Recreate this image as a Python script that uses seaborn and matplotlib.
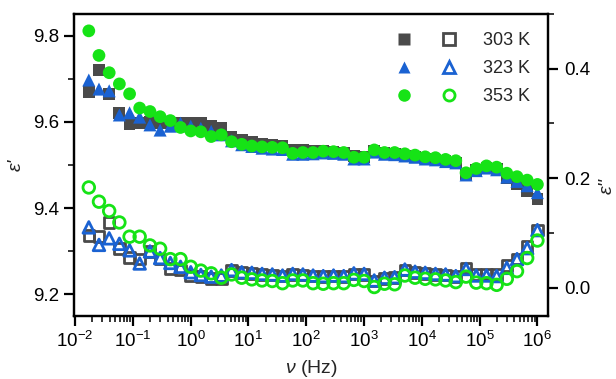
import numpy as np
import pandas as pd
import matplotlib
matplotlib.use("Agg")
import matplotlib.pyplot as plt
import seaborn as sns
from matplotlib.lines import Line2D
from matplotlib.ticker import MultipleLocator, LogLocator, NullFormatter, FixedLocator

# ---------------- data ----------------
freq = [0.0174, 0.0261, 0.0392, 0.0588, 0.0883, 0.132, 0.199, 0.298, 0.448, 0.672,
        1.01, 1.51, 2.28, 3.41, 5.13, 7.69, 11.5, 17.3, 26.0, 39.1,
        58.6, 87.9, 132, 198, 298, 447, 670, 1007, 1510, 2270,
        3400, 5110, 7670, 11500, 17300, 25900, 38900, 58500, 87700, 132000,
        198000, 297000, 446000, 668000, 1004000]

eps1_303 = [9.670, 9.720, 9.665, 9.620, 9.595, 9.597, 9.600, 9.598, 9.598, 9.597,
            9.597, 9.597, 9.590, 9.585, 9.566, 9.558, 9.553, 9.549, 9.546, 9.545,
            9.535, 9.534, 9.532, 9.532, 9.531, 9.529, 9.520, 9.518, 9.532, 9.528,
            9.525, 9.522, 9.519, 9.515, 9.513, 9.509, 9.506, 9.478, 9.488, 9.494,
            9.490, 9.470, 9.456, 9.440, 9.422]
eps1_323 = [9.697, 9.676, 9.672, 9.616, 9.621, 9.611, 9.593, 9.581, 9.590, 9.597,
            9.590, 9.585, 9.578, 9.570, 9.556, 9.547, 9.543, 9.539, 9.537, 9.536,
            9.525, 9.525, 9.526, 9.528, 9.527, 9.525, 9.514, 9.514, 9.530, 9.525,
            9.524, 9.521, 9.518, 9.514, 9.512, 9.508, 9.505, 9.477, 9.487, 9.493,
            9.489, 9.472, 9.462, 9.452, 9.436]
eps1_353 = [9.811, 9.754, 9.714, 9.688, 9.665, 9.632, 9.624, 9.612, 9.603, 9.587,
            9.579, 9.577, 9.566, 9.570, 9.554, 9.548, 9.544, 9.542, 9.541, 9.540,
            9.527, 9.529, 9.529, 9.532, 9.531, 9.529, 9.518, 9.518, 9.535, 9.529,
            9.529, 9.526, 9.523, 9.519, 9.517, 9.513, 9.510, 9.482, 9.492, 9.498,
            9.495, 9.481, 9.473, 9.465, 9.455]

eps2_303 = [0.095, 0.093, 0.119, 0.071, 0.055, 0.052, 0.066, 0.052, 0.035, 0.032,
            0.022, 0.020, 0.017, 0.017, 0.031, 0.028, 0.026, 0.024, 0.023, 0.021,
            0.024, 0.023, 0.021, 0.020, 0.021, 0.020, 0.025, 0.024, 0.012, 0.017,
            0.018, 0.032, 0.028, 0.026, 0.024, 0.023, 0.020, 0.036, 0.024, 0.025,
            0.024, 0.040, 0.052, 0.075, 0.105]
eps2_323 = [0.110, 0.078, 0.090, 0.080, 0.068, 0.044, 0.066, 0.054, 0.045, 0.038,
            0.028, 0.023, 0.020, 0.022, 0.032, 0.028, 0.027, 0.025, 0.024, 0.022,
            0.025, 0.024, 0.022, 0.021, 0.022, 0.021, 0.026, 0.025, 0.013, 0.018,
            0.019, 0.033, 0.029, 0.027, 0.025, 0.024, 0.021, 0.034, 0.022, 0.022,
            0.021, 0.036, 0.052, 0.072, 0.105]
eps2_353 = [0.183, 0.157, 0.140, 0.119, 0.093, 0.093, 0.077, 0.071, 0.052, 0.052,
            0.038, 0.031, 0.026, 0.018, 0.024, 0.018, 0.015, 0.013, 0.012, 0.008,
            0.013, 0.013, 0.008, 0.007, 0.008, 0.008, 0.014, 0.012, 0.001, 0.007,
            0.006, 0.022, 0.018, 0.016, 0.015, 0.013, 0.010, 0.020, 0.009, 0.008,
            0.005, 0.016, 0.030, 0.054, 0.086]

xticks = [1e-2, 1e-1, 1e0, 1e1, 1e2, 1e3, 1e4, 1e5, 1e6]
labels = ["303 K", "323 K", "353 K"]
colors = ["#4a4a4a", "#1a62d2", "#16e316"]
markers = ["s", "^", "o"]

# ---------------- style ----------------
sns.set_theme(style="white")
plt.rcParams["font.family"] = ["Liberation Sans", "DejaVu Sans"]
plt.rcParams["mathtext.fontset"] = "custom"
plt.rcParams["mathtext.rm"] = "Liberation Sans"
plt.rcParams["mathtext.it"] = "Liberation Sans:italic"
plt.rcParams["mathtext.default"] = "regular"
plt.rcParams["axes.linewidth"] = 1.6

fig = plt.figure(figsize=(6.16, 3.79), dpi=100)
ax = fig.add_axes([0.120, 0.1662, 0.7696, 0.7968])
ax2 = ax.twinx()

df1 = pd.DataFrame({"f": freq, "303 K": eps1_303, "323 K": eps1_323, "353 K": eps1_353})
df2 = pd.DataFrame({"f": freq, "303 K": eps2_303, "323 K": eps2_323, "353 K": eps2_353})

sizes = {"s": 72, "^": 88, "o": 84}
osizes = {"s": 58, "^": 70, "o": 70}
for lab, c, m in zip(labels, colors, markers):
    sns.scatterplot(data=df1, x="f", y=lab, marker=m, color=c, s=sizes[m],
                    edgecolor="none", linewidth=0, ax=ax, zorder=3, legend=False)
for lab, c, m in zip(labels, colors, markers):
    sns.scatterplot(data=df2, x="f", y=lab, marker=m, facecolor="none",
                    edgecolor=c, s=osizes[m], linewidth=2.0, ax=ax2, zorder=3,
                    legend=False)

ax.set_xscale("log")
ax.set_xlim(10 ** -2.017, 10 ** 6.185)
ax.set_ylim(9.15, 9.85)
ax2.set_ylim(-0.052, 0.5)

ax.xaxis.set_major_locator(FixedLocator(xticks))
ax.xaxis.set_minor_locator(LogLocator(base=10, subs=np.arange(2, 10), numticks=20))
ax.xaxis.set_minor_formatter(NullFormatter())
ax.yaxis.set_major_locator(MultipleLocator(0.2))
ax.yaxis.set_minor_locator(MultipleLocator(0.1))
ax2.yaxis.set_major_locator(MultipleLocator(0.2))
ax2.yaxis.set_minor_locator(MultipleLocator(0.1))
ax.yaxis.set_major_formatter(matplotlib.ticker.FormatStrFormatter("%.1f"))
ax2.yaxis.set_major_formatter(matplotlib.ticker.FormatStrFormatter("%.1f"))

for a in (ax, ax2):
    for sp in a.spines.values():
        sp.set_linewidth(1.6)
        sp.set_color("black")
ax.tick_params(axis="both", which="major", direction="out", length=7.5, width=1.6,
               labelsize=13.5, colors="black", pad=3)
ax.tick_params(axis="both", which="minor", direction="out", length=4.5, width=1.3)
ax.tick_params(axis="x", which="both", bottom=True, top=False)
ax.tick_params(axis="y", which="both", left=True, right=False)
ax2.tick_params(axis="y", which="major", direction="out", length=7.5, width=1.6,
                labelsize=13.5, colors="black", pad=4)
ax2.tick_params(axis="y", which="minor", direction="out", length=4.5, width=1.3)

ax.set_xlabel(r"$\mathit{ν}$ (Hz)", fontsize=14, labelpad=5)
ax.set_ylabel("ε'", fontsize=14, style="italic", labelpad=6)
ax2.set_ylabel("ε''", fontsize=14, style="italic", labelpad=6)
ax2.yaxis.label.set_y(0.43)

# legend: filled | open | label
filled = [Line2D([], [], ls="none", marker=m, color=c, mec="none", ms=9)
          for c, m in zip(colors, markers)]
opened = [Line2D([], [], ls="none", marker=m, mfc="none", mec=c, mew=2.0, ms=8)
          for c, m in zip(colors, markers)]
leg = ax.legend(filled + opened, ["", "", ""] + labels, ncol=2, loc="upper right",
                frameon=False, fontsize=13, handlelength=1.0, handletextpad=1.4,
                columnspacing=0.08, labelspacing=0.62, borderaxespad=0.6)

fig.savefig("out.png", dpi=100, facecolor="white")
